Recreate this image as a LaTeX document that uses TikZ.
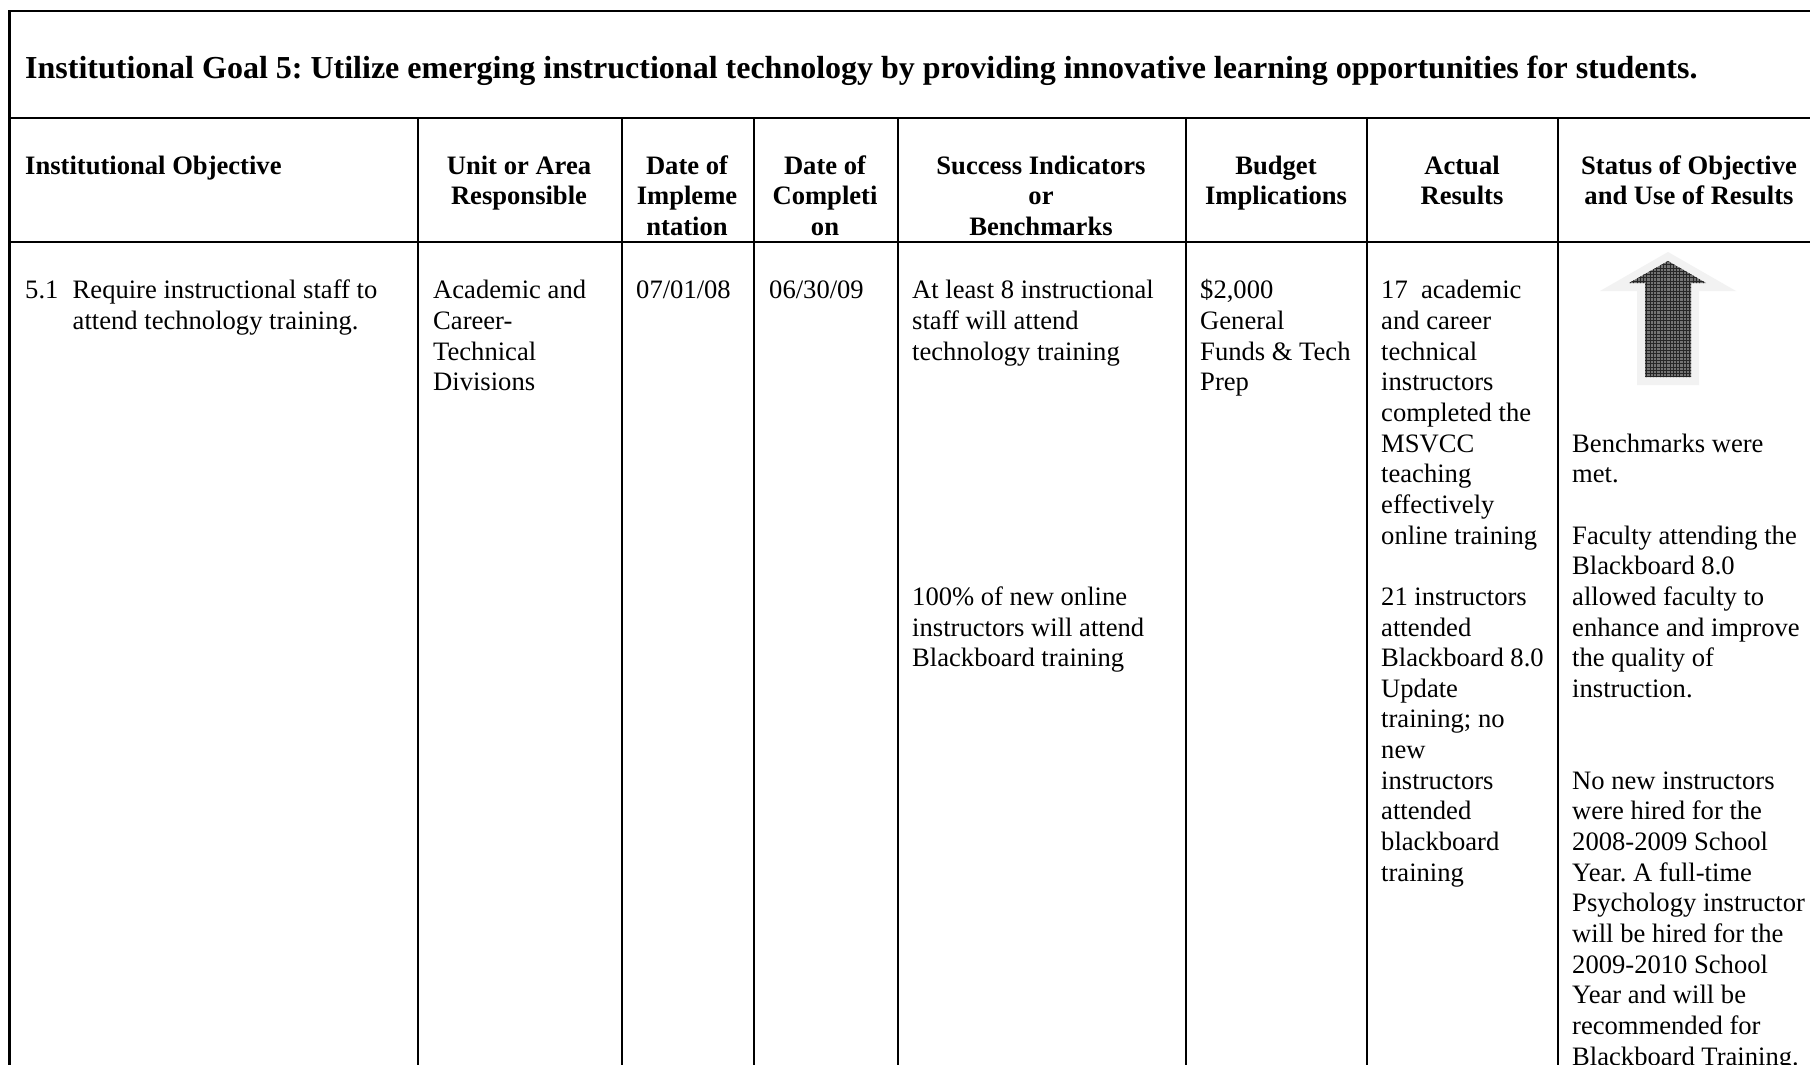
\documentclass[tikz,border=0pt]{standalone}
\usepackage{fontspec}
\setmainfont{Liberation Serif}
\newcommand{\bodyfont}{\fontsize{26.6}{30.65}\selectfont\frenchspacing}
\newcommand{\headfont}{\fontsize{26.6}{30.8}\selectfont\bfseries\frenchspacing}
\newcommand{\titlefont}{\fontsize{32}{36}\selectfont\bfseries\frenchspacing}
\tikzset{
  rule/.style={line width=2.2pt,black},
  bodytext/.style={anchor=north west,inner sep=0pt,align=left,font=\bodyfont},
  headtext/.style={anchor=north,inner sep=0pt,align=center,font=\headfont},
}
\begin{document}
\begin{tikzpicture}[x=1pt,y=-1pt]
\useasboundingbox (0,0) rectangle (1810,1065);
\fill[white] (0,0) rectangle (1810,1065);
% rules
\draw[rule] (1810,11) -- (9.5,11) -- (9.5,1065);
\draw[rule] (9.5,118) -- (1810,118);
\draw[rule] (9.5,242) -- (1810,242);
\foreach \lx in {418,622,754,898,1186,1367,1558}
  \draw[rule] (\lx,118) -- (\lx,1065);
% title
\node[anchor=north west,inner sep=0pt,font=\titlefont] (title) at (25,53) {\strut Institutional Goal 5: Utilize emerging instructional technology by providing innovative learning opportunities for students.};
% headers
\node[anchor=north west,inner sep=0pt,font=\headfont] (h1) at (25,152.4) {\strut Institutional Objective};
\node[headtext] (h2) at (519,152.4) {\strut Unit or Area\\Responsible};
\node[headtext] (h3) at (687,152.4) {\strut Date of\\Impleme\\ntation};
\node[headtext] (h4) at (825,152.4) {\strut Date of\\Completi\\on};
\node[headtext] (h5) at (1041,152.4) {\strut Success Indicators\\or\\Benchmarks};
\node[headtext] (h6) at (1276,152.4) {\strut Budget\\Implications};
\node[headtext] (h7) at (1462,152.4) {\strut Actual\\Results};
\node[headtext] (h8) at (1689,152.4) {\strut Status of Objective\\and Use of Results};
% body
\node[bodytext] (o0) at (25,277.2) {\strut 5.1};
\node[bodytext] (o1) at (72.5,277.2) {\strut Require instructional staff to\\attend technology training.};
\node[bodytext] (u1) at (433,277.2) {\strut Academic and\\Career-\\Technical\\Divisions};
\node[bodytext] (d1) at (636,277.2) {\strut 07/01/08};
\node[bodytext] (d2) at (769,277.2) {\strut 06/30/09};
\node[bodytext] (s1) at (912,277.2) {\strut At least 8 instructional\\staff will attend\\technology training};
\node[bodytext] (s2) at (912,583.7) {\strut 100\% of new online\\instructors will attend\\Blackboard training};
\node[bodytext] (b1) at (1200,277.2) {\strut \$2,000\\General\\Funds \& Tech\\Prep};
\node[bodytext] (a1) at (1381,277.2) {\strut 17\ \ academic\\and career\\technical\\instructors\\completed the\\MSVCC\\teaching\\effectively\\online training};
\node[bodytext] (a2) at (1381,583.7) {\strut 21 instructors\\attended\\Blackboard 8.0\\Update\\training; no\\new\\instructors\\attended\\blackboard\\training};
\node[bodytext] (r1) at (1572,430.5) {\strut Benchmarks were\\met.};
\node[bodytext] (r2) at (1572,522.4) {\strut Faculty attending the\\Blackboard 8.0\\allowed faculty to\\enhance and improve\\the quality of\\instruction.};
\node[bodytext] (r3) at (1572,767.6) {\strut No new instructors\\were hired for the\\2008-2009 School\\Year. A full-time\\Psychology instructor\\will be hired for the\\2009-2010 School\\Year and will be\\recommended for\\Blackboard Training.};
% arrow
\fill[black!5] (1668,252) -- (1736,291) -- (1699,291) -- (1699,385) -- (1637,385) -- (1637,291) -- (1600,291) -- cycle;
\begin{scope}
\clip (1668,261) -- (1706,283) -- (1691,283) -- (1691,377) -- (1645,377) -- (1645,283) -- (1629,283) -- cycle;
\fill[black!55] (1625,255) rectangle (1710,380);
\foreach \gx in {1627,1630.3,...,1710} \draw[black!85,line width=0.8pt] (\gx,255) -- (\gx,380);
\foreach \gy in {258,261.3,...,380} \draw[black!85,line width=0.8pt] (1625,\gy) -- (1710,\gy);
\end{scope}
\end{tikzpicture}
\end{document}
